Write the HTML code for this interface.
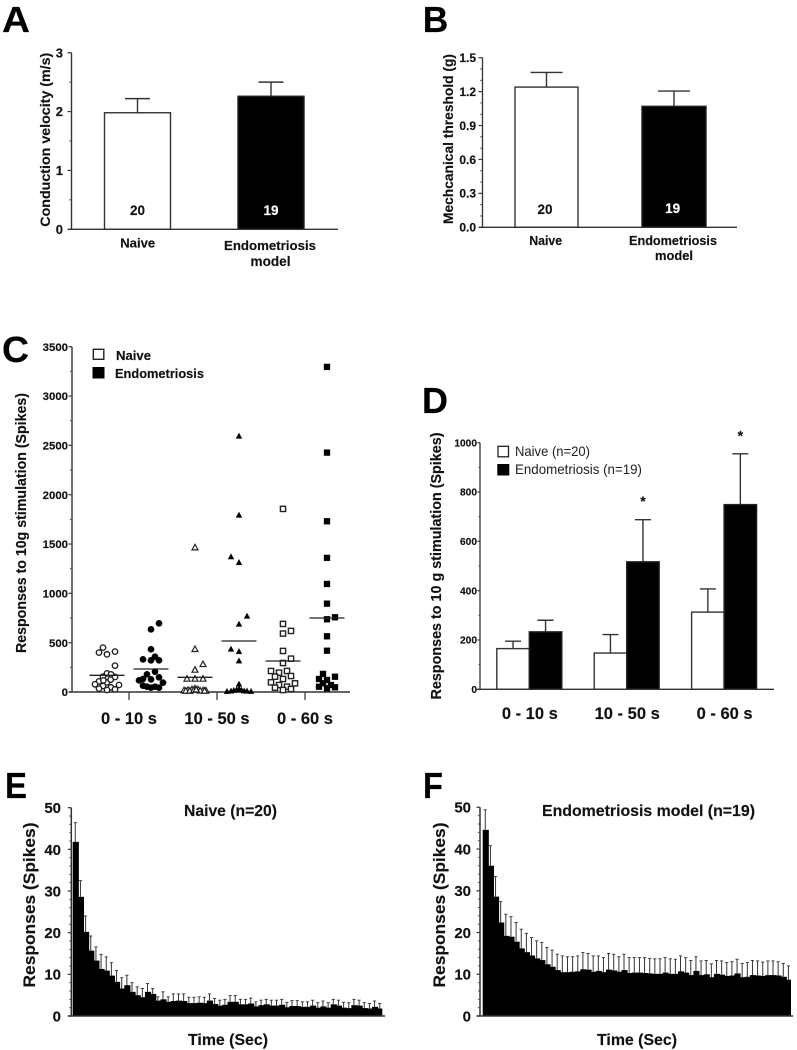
<!DOCTYPE html>
<html lang="en">
<head>
<meta charset="utf-8">
<title>Endometriosis model responses</title>
<style>
html,body{margin:0;padding:0;background:#fff;}
svg{display:block;filter:blur(0.35px);}
text{font-family:"Liberation Sans",Arial,sans-serif;font-weight:bold;fill:#111;stroke:#111;stroke-width:0.15px;}
.reg{font-weight:normal;fill:#222;stroke:none;}
.letter{font-size:36px;fill:#000;stroke:#000;}
.inv{fill:#fff;stroke:#fff;}
</style>
</head>
<body>
<svg id="figure" xmlns="http://www.w3.org/2000/svg" width="797" height="1050" viewBox="0 0 797 1050">
<rect width="797" height="1050" fill="#fff"/>

<g id="panel-a">
<text class="letter" x="2" y="32" textLength="28" lengthAdjust="spacingAndGlyphs">A</text>
<text x="50" y="139.7" text-anchor="middle" font-size="14" textLength="174" lengthAdjust="spacingAndGlyphs" transform="rotate(-90 50 139.7)">Conduction velocity (m/s)</text>
<text x="137.7" y="247.7" text-anchor="middle" font-size="13.2" textLength="35" lengthAdjust="spacingAndGlyphs">Naive</text>
<text x="270" y="250" text-anchor="middle" font-size="13.2" textLength="92" lengthAdjust="spacingAndGlyphs">Endometriosis</text>
<text x="270.5" y="266" text-anchor="middle" font-size="13.5" textLength="40" lengthAdjust="spacingAndGlyphs">model</text>
</g>

<g id="panel-b">
<text class="letter" x="422.7" y="32" textLength="25.5" lengthAdjust="spacingAndGlyphs">B</text>
<text x="453" y="139" text-anchor="middle" font-size="13.6" textLength="170" lengthAdjust="spacingAndGlyphs" transform="rotate(-90 453 139)">Mechcanical threshold (g)</text>
<text x="545.7" y="245" text-anchor="middle" font-size="12.6" textLength="33" lengthAdjust="spacingAndGlyphs">Naive</text>
<text x="673" y="245" text-anchor="middle" font-size="12.7" textLength="88" lengthAdjust="spacingAndGlyphs">Endometriosis</text>
<text x="674" y="260" text-anchor="middle" font-size="13" textLength="38" lengthAdjust="spacingAndGlyphs">model</text>
</g>

<g id="panel-c">
<text class="letter" x="2" y="362" textLength="27" lengthAdjust="spacingAndGlyphs">C</text>
<text x="26" y="523" text-anchor="middle" font-size="14.3" textLength="260" lengthAdjust="spacingAndGlyphs" transform="rotate(-90 26 523)">Responses to 10g stimulation (Spikes)</text>
<rect x="93.3" y="349.3" width="10.5" height="10" fill="#fff" stroke="#222" stroke-width="1.4"/>
<rect x="92.5" y="367" width="12" height="11.5" fill="#000"/>
<text x="116" y="360" font-size="13" textLength="35" lengthAdjust="spacingAndGlyphs">Naive</text>
<text x="115" y="378" font-size="13" textLength="89" lengthAdjust="spacingAndGlyphs">Endometriosis</text>
</g>

<g id="panel-d">
<text class="letter" x="422" y="413" textLength="26" lengthAdjust="spacingAndGlyphs">D</text>
<text x="441" y="566" text-anchor="middle" font-size="14.5" textLength="267" lengthAdjust="spacingAndGlyphs" transform="rotate(-90 441 566)">Responses to 10 g stimulation (Spikes)</text>
<rect x="498" y="446.3" width="10.5" height="10.5" fill="#fff" stroke="#222" stroke-width="1.3"/>
<rect x="497.3" y="464" width="12" height="11.5" fill="#000"/>
<text class="reg" x="515" y="456" font-size="13.6" textLength="75" lengthAdjust="spacingAndGlyphs">Naive (n=20)</text>
<text class="reg" x="515" y="474" font-size="13.6" textLength="127" lengthAdjust="spacingAndGlyphs">Endometriosis (n=19)</text>
</g>

<g id="panel-e">
<text class="letter" x="5" y="798" textLength="22" lengthAdjust="spacingAndGlyphs">E</text>
<text x="35" y="905" text-anchor="middle" font-size="17" textLength="165" lengthAdjust="spacingAndGlyphs" transform="rotate(-90 35 905)">Responses (Spikes)</text>
<text x="230.5" y="816" text-anchor="middle" font-size="15.8" textLength="93" lengthAdjust="spacingAndGlyphs">Naive (n=20)</text>
<text x="228" y="1045" text-anchor="middle" font-size="15.8" textLength="80" lengthAdjust="spacingAndGlyphs">Time (Sec)</text>
</g>

<g id="panel-f">
<text class="letter" x="423" y="798" textLength="20" lengthAdjust="spacingAndGlyphs">F</text>
<text x="445" y="905" text-anchor="middle" font-size="17" textLength="165" lengthAdjust="spacingAndGlyphs" transform="rotate(-90 445 905)">Responses (Spikes)</text>
<text x="648.5" y="816" text-anchor="middle" font-size="15.9" textLength="213" lengthAdjust="spacingAndGlyphs">Endometriosis model (n=19)</text>
<text x="637" y="1045" text-anchor="middle" font-size="15.8" textLength="80" lengthAdjust="spacingAndGlyphs">Time (Sec)</text>
</g>
</svg>

<script>
/* Panel A */
const aTicks = ['0', '1', '2', '3'];
const aValues = [1.98, 2.26];
const aErrorTops = [2.22, 2.5];
/* Panel B */
const bTicks = ['0.0', '0.3', '0.6', '0.9', '1.2', '1.5'];
const bValues = [1.24, 1.07];
const bErrorTops = [1.37, 1.205];
/* Panel C */
const cTicks = ['0', '500', '1000', '1500', '2000', '2500', '3000', '3500'];
const timeWindows = ['0 - 10 s', '10 - 50 s', '0 - 60 s'];
const cNaive010 = [450, 399, 382, 409, 267, 189, 179, 155, 152, 108, 98, 78, 71, 61, 47, 34, 20, 27, 125, 118];
const cNaive010Slots = [-1, -2, 0, 2, 2, 0, 1, -1, 2, -2, 0, -3, 3, -1, 1, -2, 0, 2, 0.9, -0.9];
const cEndo010 = [696, 635, 433, 331, 358, 321, 321, 206, 179, 132, 118, 128, 149, 95, 64, 54, 44, 54, 44];
const cEndo010Slots = [2, 0, 0, -2, 1, 0, 2, 1, -1, -2, -3, 0, 2, 3, -2, -1, 0, 1, 2];
const cNaive1050 = [1463, 433, 280, 223, 132, 132, 132, 15, 18, 25, 32, 25, 15, 12, 10, 10, 12, 18, 22, 10];
const cNaive1050Slots = [0, 0, 2, 0, -2, 0, 2, -2.75, -1.75, -0.75, 0, 0.75, 2, 2.75, -2.3, -1.3, 1.3, -0.3, 0.3, 2.4];
const cEndo1050 = [2592, 1791, 1369, 1311, 767, 686, 433, 409, 314, 78, 5, 8, 15, 22, 30, 18, 10, 8, 5];
const cEndo1050Slots = [0, 0, -2, 0, 2, 0, -2, 0, 0, 0, -3, -2, -1.3, -0.6, 0, 0.6, 1.3, 2, 3];
const cNaive060 = [1856, 690, 619, 592, 416, 338, 294, 213, 196, 213, 155, 162, 132, 98, 71, 88, 44, 54, 30, 20];
const cNaive060Slots = [0, 0, 2, 0, 0, 2, 0, -3, -1, 1, -2, 2, 0, -3, -1, 3, -2, 1, 2, 0];
const cEndo060 = [3295, 2427, 1730, 1359, 1095, 896, 757, 737, 564, 419, 183, 132, 122, 155, 54, 37, 71, 47, 88];
const cEndo060Slots = [0, 0, 0, 0, 0, 0, 2, 0, 0, 0, -1, -2, 0, 2, -2, 0, 1, 2, -1];
const cMeans = [169, 233, 149, 517, 314, 750];
/* Panel D */
const dTicks = ['0', '200', '400', '600', '800', '1000'];
const dNaive = [165, 147, 313];
const dNaiveErrorTops = [195, 222, 407];
const dEndo = [233, 517, 749];
const dEndoErrorTops = [280, 688, 955];
const dSignificant = [false, true, true];
/* Panels E and F */
const histTicks = ['0', '10', '20', '30', '40', '50'];
const eValues = [41.8, 28.6, 20.2, 15.7, 13.3, 11.3, 10.9, 9.7, 8.2, 6.6, 7.4, 5.8, 5, 4.5, 5.8, 5.3, 3.7, 4,
  3.4, 3.6, 3.7, 3.6, 3.1, 3.1, 3.2, 3.1, 3.7, 2.9, 2.5, 2.7, 3.4, 3.4, 2.8, 2.8, 3, 2.3, 2.6, 2.8, 2.5, 2.5,
  2.7, 2.1, 2.4, 2.4, 2.2, 2.2, 2.5, 2, 2.3, 2, 2.8, 2.5, 2, 1.9, 2.6, 2.5, 1.9, 1.8, 2.2, 1.8];
const eErrorTops = [46.4, 32.5, 24, 19.2, 16.6, 14.8, 14.2, 12.8, 10.9, 9.2, 9.8, 8, 7, 6.6, 7.8, 6.6, 4.6, 5.8,
  4.6, 5.3, 5.3, 5.3, 4.5, 4.5, 4.6, 4.5, 5.3, 4.2, 3.8, 4, 4.9, 4.9, 4, 4, 4.3, 3.4, 3.8, 4, 3.8, 3.8,
  4, 3.3, 3.7, 3.7, 3.4, 3.4, 3.8, 3.2, 3.6, 3.2, 4, 3.8, 3.3, 3.2, 4, 3.8, 3.2, 3, 3.6, 3];
const fValues = [44.6, 36, 28.6, 22.4, 19.2, 19, 17.8, 16.2, 15.3, 14.5, 13.8, 13.4, 12.4, 11.8, 11, 10.5, 10.5,
  10.6, 10.7, 11.2, 11.1, 10.6, 10.8, 10.5, 11.1, 10.9, 10.6, 11, 10.3, 10.4, 10.4, 10.3, 10.2, 10.1, 10.1, 10.4, 10.1,
  10.1, 10.7, 10.4, 9.8, 10.8, 9.8, 10, 9.3, 10.1, 9.9, 9.6, 9.7, 10.2, 9.3, 9.4, 9.8, 9.7, 9.6, 9.8, 9.8, 9.7, 9.4, 8.7];
const fErrorTops = [49.4, 40.8, 33.4, 27.4, 24.4, 23.8, 22.4, 20.8, 19.8, 18.8, 18, 17.6, 16.4, 15.8, 14.8, 14.4, 14.2,
  14.2, 14.4, 15.2, 15, 14.4, 14.4, 14, 15, 14.8, 14.2, 14.8, 14, 14, 14, 14, 13.8, 13.7, 13.7, 14, 13.7,
  13.6, 14.4, 14, 13.3, 14.2, 13.2, 13.3, 12.5, 13.3, 13.2, 12.8, 13, 13.6, 12.6, 12.8, 13.3, 13.2, 12.9, 13.2, 13.2, 13, 12.6, 12];

const NS = 'http://www.w3.org/2000/svg';
function mk(parent, tag, attrs) {
  const n = document.createElementNS(NS, tag);
  for (const k in attrs) n.setAttribute(k, attrs[k]);
  parent.appendChild(n);
  return n;
}
function yPos(cfg, v) {
  return cfg.y0 - v * (cfg.y0 - cfg.yTop) / cfg.max;
}
function drawYAxis(g, cfg, labels, prefix) {
  const axis = mk(g, 'line', {x1: cfg.x, x2: cfg.x, y1: yPos(cfg, cfg.max), y2: cfg.y0, stroke: '#333', 'stroke-width': cfg.axisW});
  
  
  labels.forEach(function (lab) {
    const v = Number(lab);
    const y = yPos(cfg, v);
    const tick = mk(g, 'line', {x1: cfg.x - cfg.tick, x2: cfg.x, y1: y, y2: y, stroke: '#333', 'stroke-width': 1.2});
    
    
    const t = mk(g, 'text', {x: cfg.labelX, y: y + cfg.font * 0.36, 'text-anchor': 'end', 'font-size': cfg.font});
    t.textContent = lab;
    
    
  });
  const count = Math.round(cfg.max / cfg.minor);
  for (let i = 0; i <= count; i++) {
    const y = yPos(cfg, i * cfg.minor);
    const m = mk(g, 'line', {x1: cfg.x - cfg.tick * 0.6, x2: cfg.x, y1: y, y2: y, stroke: '#444', 'stroke-width': 0.9});
    
    
  }
}
function drawBaseline(g, cfg, prefix) {
  const b = mk(g, 'line', {x1: cfg.baseStart, x2: cfg.baseEnd, y1: cfg.y0, y2: cfg.y0, stroke: '#333', 'stroke-width': cfg.axisW});
  
  
}
function drawBar(g, cfg, left, width, value, errTop, filled, name) {
  const cx = left + width / 2;
  const top = yPos(cfg, value);
  const et = yPos(cfg, errTop);
  const stem = mk(g, 'line', {x1: cx, x2: cx, y1: top, y2: et, stroke: '#333', 'stroke-width': 1.4});
  
  
  const cap = mk(g, 'line', {x1: cx - cfg.cap / 2, x2: cx + cfg.cap / 2, y1: et, y2: et, stroke: '#333', 'stroke-width': 1.4});
  
  
  const r = mk(g, 'rect', {x: left, y: top, width: width, height: cfg.y0 - top, fill: filled ? '#000' : '#fff', stroke: filled ? '#222' : '#333', 'stroke-width': 1.4});
  
  
}

/* ---------- Panel A ---------- */
const cfgA = {x: 71.5, y0: 229.3, yTop: 52.7, max: 3, minor: 0.5, tick: 4, labelX: 63, font: 13, axisW: 1.4, cap: 25, baseStart: 68, baseEnd: 338};
const gA = document.getElementById('panel-a');
drawYAxis(gA, cfgA, aTicks, 'a');
drawBar(gA, cfgA, 104.5, 66, aValues[0], aErrorTops[0], false, 'bar-a-naive');
drawBar(gA, cfgA, 238, 66, aValues[1], aErrorTops[1], true, 'bar-a-endometriosis');
drawBaseline(gA, cfgA, 'a');
const aN0 = mk(gA, 'text', {x: 137.5, y: 215, 'text-anchor': 'middle', 'font-size': 13.5});
aN0.textContent = '20';


const aN1 = mk(gA, 'text', {x: 271, y: 215, 'text-anchor': 'middle', 'font-size': 13.5, class: 'inv'});
aN1.textContent = '19';



/* ---------- Panel B ---------- */
const cfgB = {x: 482.5, y0: 227.3, yTop: 57.7, max: 1.5, minor: 0.1, tick: 4, labelX: 476, font: 12, axisW: 1.3, cap: 32, baseStart: 479, baseEnd: 737};
const gB = document.getElementById('panel-b');
drawYAxis(gB, cfgB, bTicks, 'b');
drawBar(gB, cfgB, 515, 63, bValues[0], bErrorTops[0], false, 'bar-b-naive');
drawBar(gB, cfgB, 642, 64, bValues[1], bErrorTops[1], true, 'bar-b-endometriosis');
drawBaseline(gB, cfgB, 'b');
const bN0 = mk(gB, 'text', {x: 545, y: 214, 'text-anchor': 'middle', 'font-size': 13.5});
bN0.textContent = '20';


const bN1 = mk(gB, 'text', {x: 672.7, y: 213, 'text-anchor': 'middle', 'font-size': 13.5, class: 'inv'});
bN1.textContent = '19';



/* ---------- Panel C ---------- */
const cfgC = {x: 72, y0: 692, yTop: 346.7, max: 3500, minor: 250, tick: 3.5, labelX: 68, font: 11.4, axisW: 1.4, baseStart: 69, baseEnd: 350};
const gC = document.getElementById('panel-c');
drawYAxis(gC, cfgC, cTicks, 'c');
drawBaseline(gC, cfgC, 'c');
function catX(g) { return 129 + 88 * g; }
timeWindows.forEach(function (lab, g) {
  const tick = mk(gC, 'line', {x1: catX(g), x2: catX(g), y1: 692, y2: 700, stroke: '#333', 'stroke-width': 1.2});
  
  
  const t = mk(gC, 'text', {x: catX(g), y: 724, 'text-anchor': 'middle', 'font-size': 16.5});
  t.textContent = lab;
  
  
});
function marker(shape, filled, x, y) {
  const fill = filled ? '#000' : '#fff';
  const stroke = filled ? '#000' : '#222';
  const sw = filled ? 0.3 : 1.4;
  let m;
  if (shape === 'circle') {
    m = mk(gC, 'circle', {cx: x, cy: y, r: filled ? 3.2 : 2.7, fill: fill, stroke: stroke, 'stroke-width': sw});
  } else if (shape === 'triangle') {
    const pts = [[x, y - 3.3], [x + 3, y + 2.2], [x - 3, y + 2.2]].map(function (p) { return p.join(','); }).join(' ');
    m = mk(gC, 'polygon', {points: pts, fill: fill, stroke: stroke, 'stroke-width': filled ? 0.3 : 1.2});
  } else {
    const s = filled ? 6 : 5.2;
    m = mk(gC, 'rect', {x: x - s / 2, y: y - s / 2, width: s, height: s, fill: fill, stroke: stroke, 'stroke-width': sw});
  }
  return m;
}
const cColumns = [
  [cNaive010, cNaive010Slots, 'circle', false, 'naive-0-10'],
  [cEndo010, cEndo010Slots, 'circle', true, 'endometriosis-0-10'],
  [cNaive1050, cNaive1050Slots, 'triangle', false, 'naive-10-50'],
  [cEndo1050, cEndo1050Slots, 'triangle', true, 'endometriosis-10-50'],
  [cNaive060, cNaive060Slots, 'square', false, 'naive-0-60'],
  [cEndo060, cEndo060Slots, 'square', true, 'endometriosis-0-60']
];
cColumns.forEach(function (col, idx) {
  const center = catX(Math.floor(idx / 2)) + (idx % 2 ? 22 : -22);
  col[0].forEach(function (v, i) {
    const pt = marker(col[2], col[3], center + col[1][i] * 4, yPos(cfgC, v));
    
    
  });
  const my = yPos(cfgC, cMeans[idx]);
  const ml = mk(gC, 'line', {x1: center - 17.5, x2: center + 17.5, y1: my, y2: my, stroke: '#222', 'stroke-width': 1.3});
  
  
});

/* ---------- Panel D ---------- */
const cfgD = {x: 480, y0: 689.3, yTop: 442.7, max: 1000, minor: 100, tick: 2.5, labelX: 477, font: 10.2, axisW: 1.3, cap: 16, baseStart: 477, baseEnd: 774};
const gD = document.getElementById('panel-d');
drawYAxis(gD, cfgD, dTicks, 'd');
function groupX(g) { return 529.3 + 97.4 * g; }
timeWindows.forEach(function (lab, g) {
  const c = groupX(g);
  drawBar(gD, cfgD, c - 32.5, 32.5, dNaive[g], dNaiveErrorTops[g], false, 'bar-d-naive-' + g);
  drawBar(gD, cfgD, c, 32.5, dEndo[g], dEndoErrorTops[g], true, 'bar-d-endometriosis-' + g);
  const t = mk(gD, 'text', {x: c + 0.5, y: 719, 'text-anchor': 'middle', 'font-size': 16.5});
  t.textContent = lab;
  
  
  if (dSignificant[g]) {
    const s = mk(gD, 'text', {x: c + 16.3, y: yPos(cfgD, dEndoErrorTops[g]) - 13.5, 'text-anchor': 'middle', 'font-size': 14});
    s.textContent = '*';
    
    
  }
});
drawBaseline(gD, cfgD, 'd');

/* ---------- Panels E and F ---------- */
function drawHistogram(g, cfg, values, errs, prefix) {
  drawYAxis(g, cfg, histTicks, prefix);
  const step = (cfg.barEnd - cfg.barStart) / values.length;
  values.forEach(function (v, i) {
    const cx = cfg.barStart + step * (i + 0.5);
    const et = yPos(cfg, errs[i]);
    const top = yPos(cfg, v);
    const stem = mk(g, 'line', {x1: cx, x2: cx, y1: top, y2: et, stroke: '#333', 'stroke-width': 1});
    
    
    const cap = mk(g, 'line', {x1: cx - 1.6, x2: cx + 1.6, y1: et, y2: et, stroke: '#333', 'stroke-width': 0.9});
    
    
  });
  values.forEach(function (v, i) {
    const top = yPos(cfg, v);
    const overlap = i < values.length - 1 ? 1 : 0;
    const r = mk(g, 'rect', {x: cfg.barStart + step * i, y: top, width: step + overlap, height: cfg.y0 - top, fill: '#000'});
    
    
  });
  drawBaseline(g, cfg, prefix);
}
const cfgE = {x: 71.3, y0: 1016, yTop: 807.7, max: 50, minor: 2, tick: 3.5, labelX: 61, font: 15, axisW: 1.5, baseStart: 68, baseEnd: 385, barStart: 72.7, barEnd: 382.3};
drawHistogram(document.getElementById('panel-e'), cfgE, eValues, eErrorTops, 'e');
const cfgF = {x: 480, y0: 1016, yTop: 807.3, max: 50, minor: 2, tick: 3.5, labelX: 471, font: 15, axisW: 1.5, baseStart: 477, baseEnd: 793, barStart: 482.7, barEnd: 791};
drawHistogram(document.getElementById('panel-f'), cfgF, fValues, fErrorTops, 'f');
</script>
</body>
</html>
